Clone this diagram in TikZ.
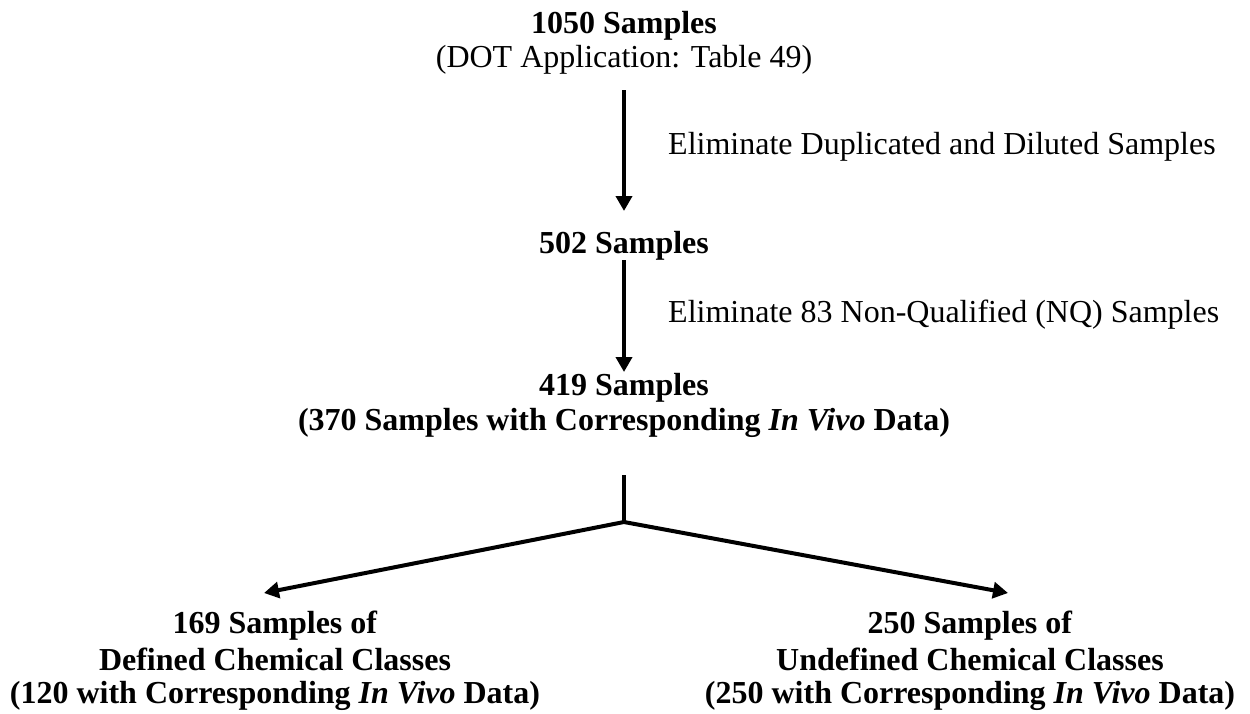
\documentclass[tikz,border=0pt]{standalone}
\usepackage{fontspec}
\setmainfont{Liberation Serif}
\usetikzlibrary{arrows.meta}
\begin{document}
\begin{tikzpicture}[x=1pt,y=-1pt,
  txt/.style={inner sep=0pt,anchor=base,font=\fontsize{32}{35}\selectfont},
  lbl/.style={inner sep=0pt,anchor=base west,font=\fontsize{32}{35}\selectfont},
  conn/.style={line width=4pt,-{Triangle[length=15pt,width=16pt]}},
  plain/.style={line width=4pt}]
\useasboundingbox (0,0) rectangle (1250,713);
\node[txt] (t1) at (624,33) {\textbf{1050 Samples}};
\node[txt] (t2) at (624,67) {(DOT Application: Table 49)};
\node[txt] (m1) at (624,253) {\textbf{502 Samples}};
\node[txt] (s1) at (624,395) {\textbf{419 Samples}};
\node[txt] (s2) at (624,430) {\textbf{(370 Samples with Corresponding \textit{In Vivo} Data)}};
\node[txt] (l1) at (275,633) {\textbf{169 Samples of}};
\node[txt] (l2) at (275,670) {\textbf{Defined Chemical Classes}};
\node[txt] (l3) at (275,703) {\textbf{(120 with Corresponding \textit{In Vivo} Data)}};
\node[txt] (r1) at (970,633) {\textbf{250 Samples of}};
\node[txt] (r2) at (970,670) {\textbf{Undefined Chemical Classes}};
\node[txt] (r3) at (970,703) {\textbf{(250 with Corresponding \textit{In Vivo} Data)}};
\node[lbl] (e1) at (668,154) {Eliminate Duplicated and Diluted Samples};
\node[lbl] (e2) at (668,322) {Eliminate 83 Non-Qualified (NQ) Samples};
\coordinate (a1s) at (624,90);
\coordinate (a1e) at (624,211);
\coordinate (a2s) at (624,260);
\coordinate (a2e) at (624,372);
\coordinate (bs) at (624,475);
\coordinate (bp) at (624,522);
\coordinate (lt) at (264,593);
\coordinate (rt) at (1008,593);
\draw[conn] (a1s) -- (a1e);
\draw[conn] (a2s) -- (a2e);
\draw[plain] (bs) -- (bp);
\draw[conn] (bp) -- (lt);
\draw[conn] (bp) -- (rt);
\end{tikzpicture}
\end{document}
